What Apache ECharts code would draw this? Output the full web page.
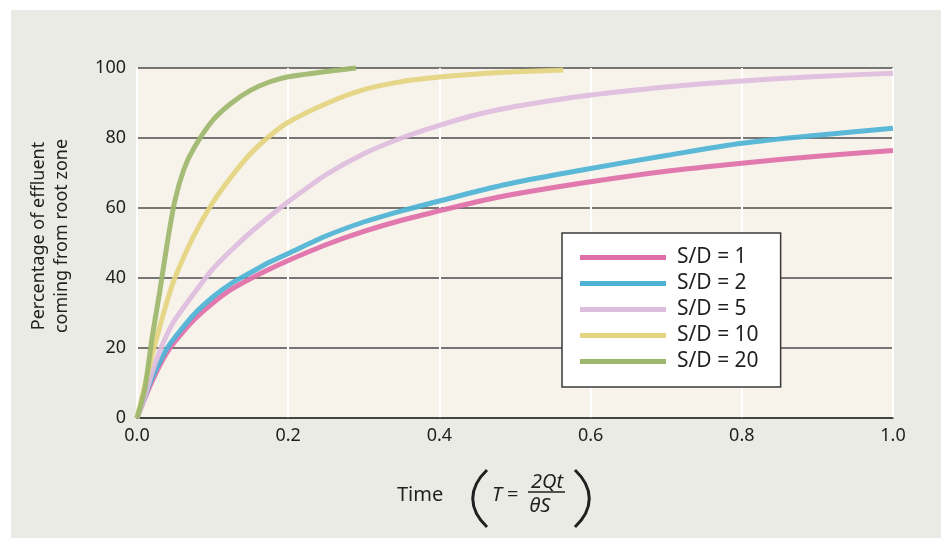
<!DOCTYPE html>
<html><head><meta charset="utf-8">
<script src="https://cdn.jsdelivr.net/npm/echarts@6/dist/echarts.min.js"></script>
<style>html,body{margin:0;padding:0;background:#fff}#c{width:943px;height:538px}</style>
</head><body><div id="c"></div>
<script>
// Time T (shared grid)
const timeGrid = [0, 0.01, 0.02, 0.03, 0.04, 0.05, 0.062, 0.075, 0.1, 0.125, 0.15, 0.175, 0.2, 0.25, 0.29, 0.3, 0.35, 0.4, 0.45, 0.5, 0.564, 0.6, 0.7, 0.8, 0.9, 1.0];
// Percentage of effluent coming from root zone
const sd1  = [0, 5.5, 10.5, 15, 18.8, 21.8, null, 28, 32.8, 36.8, 39.8, 42.5, 45, 49.5, null, 53.3, 56.5, 59.2, 61.8, 64, null, 67.5, 70.5, 72.8, 74.8, 76.4];
const sd2  = [0, 6, 11.5, 16, 20, 23, null, 29.5, 34.5, 38.5, 41.5, 44.5, 47, 52, null, 56, 59.2, 62, 64.8, 67.3, null, 71.3, 75, 78.5, 80.8, 82.8];
const sd5  = [0, 6, 13, 19, 24, 28, null, 35.5, 42.5, 48, 53, 57.5, 61.8, 69.5, null, 75.5, 80, 83.6, 86.7, 89, null, 92.3, 94.6, 96.3, 97.6, 98.5];
const sd10 = [0, 9, 18, 26, 33.5, 40, null, 52, 61.5, 69, 75.5, 80.5, 84.5, 89.8, null, 93.8, 96.1, 97.4, 98.3, 98.9, 99.4, null, null, null, null, null];
const sd20 = [0, 8, 23, 36, 50, 62, 71, 77, 85, 90, 93.6, 96, 97.5, 99, 100, null, null, null, null, null, null, null, null, null, null, null];
const seriesNames = ['S/D = 1', 'S/D = 2', 'S/D = 5', 'S/D = 10', 'S/D = 20'];
const seriesColors = ['#de6fa8', '#4db3d5', '#ddbddd', '#e3d47f', '#9db76b'];
const seriesValues = [sd1, sd2, sd5, sd10, sd20];
const yTicks = [0, 20, 40, 60, 80, 100];
const xTicks = [0, 0.2, 0.4, 0.6, 0.8, 1.0];

const FONT = "'Noto Sans', 'Open Sans', sans-serif";
const TXT = '#231f20';

const chart = echarts.init(document.getElementById('c'), null, {renderer: 'canvas'});

const series = seriesValues.map((vals, i) => ({
  name: seriesNames[i],
  type: 'line',
  data: timeGrid.map((t, k) => [t, vals[k]]),
  connectNulls: true,
  smooth: 0.25,
  showSymbol: false,
  symbol: 'none',
  color: seriesColors[i],
  lineStyle: {width: 5, color: seriesColors[i], opacity: 0.92},
  z: 3
}));

chart.setOption({
  animation: false,
  backgroundColor: '#ffffff',
  textStyle: {fontFamily: FONT},
  grid: {left: 137, right: 50, top: 68, bottom: 120, show: true, backgroundColor: '#f7f3eb', borderWidth: 0},
  xAxis: {
    type: 'value', min: xTicks[0], max: xTicks[xTicks.length - 1], interval: 0.2,
    axisLine: {show: true, lineStyle: {color: '#333', width: 1.5}},
    axisTick: {show: false},
    axisLabel: {fontFamily: FONT, fontSize: 18, color: TXT, margin: 9, formatter: v => v.toFixed(1)},
    splitLine: {show: true, lineStyle: {color: '#ffffff', width: 2}}
  },
  yAxis: {
    type: 'value', min: yTicks[0], max: yTicks[yTicks.length - 1], interval: 20,
    axisLine: {show: true, lineStyle: {color: '#ffffff', width: 2}},
    axisTick: {show: false},
    axisLabel: {fontFamily: FONT, fontSize: 18, color: TXT, margin: 11},
    splitLine: {show: true, lineStyle: {color: '#4d4d4d', width: 1.5}}
  },
  legend: {
    orient: 'vertical', left: 562, top: 233,
    itemWidth: 86, itemHeight: 5, itemGap: 5, icon: 'rect',
    backgroundColor: '#ffffff', borderColor: '#3a3a3a', borderWidth: 1.5, borderRadius: 0,
    padding: [14, 22, 15, 18],
    textStyle: {fontFamily: FONT, fontSize: 21, color: TXT, padding: [0, 0, 0, 6]},
    data: seriesNames
  },
  graphic: [
    {type: 'rect', z: -10, silent: true, shape: {x: 11, y: 10, width: 930, height: 528}, style: {fill: '#e9ebe4'}},
    {type: 'text', z: 10, x: 50, y: 236, rotation: Math.PI / 2,
      style: {text: 'Percentage of effluent\ncoming from root zone', font: '18px ' + FONT, fill: TXT, textAlign: 'center', textVerticalAlign: 'middle', lineHeight: 23}},
    {type: 'text', z: 10, x: 397, y: 495, style: {text: 'Time', font: '20px ' + FONT, fill: TXT, textAlign: 'left', textVerticalAlign: 'middle'}},
    {type: 'bezierCurve', z: 10, shape: {x1: 487, y1: 470, cpx1: 468, cpy1: 488, cpx2: 468, cpy2: 509, x2: 487, y2: 527}, style: {stroke: TXT, lineWidth: 3, fill: null}},
    {type: 'bezierCurve', z: 10, shape: {x1: 575, y1: 470, cpx1: 594, cpy1: 488, cpx2: 594, cpy2: 509, x2: 575, y2: 527}, style: {stroke: TXT, lineWidth: 3, fill: null}},
    {type: 'text', z: 10, x: 492, y: 495, style: {text: 'T', font: 'italic 20px ' + FONT, fill: TXT, textAlign: 'left', textVerticalAlign: 'middle'}},
    {type: 'text', z: 10, x: 507, y: 495, style: {text: '=', font: '20px ' + FONT, fill: TXT, textAlign: 'left', textVerticalAlign: 'middle'}},
    {type: 'text', z: 10, x: 547, y: 482, style: {text: '2Qt', font: 'italic 20px ' + FONT, fill: TXT, textAlign: 'center', textVerticalAlign: 'middle'}},
    {type: 'line', z: 10, shape: {x1: 528, y1: 492, x2: 565, y2: 492}, style: {stroke: TXT, lineWidth: 1.5}},
    {type: 'text', z: 10, x: 540, y: 506, style: {text: 'θS', font: 'italic 20px ' + FONT, fill: TXT, textAlign: 'center', textVerticalAlign: 'middle'}}
  ],
  series: series
});
</script>
</body></html>
